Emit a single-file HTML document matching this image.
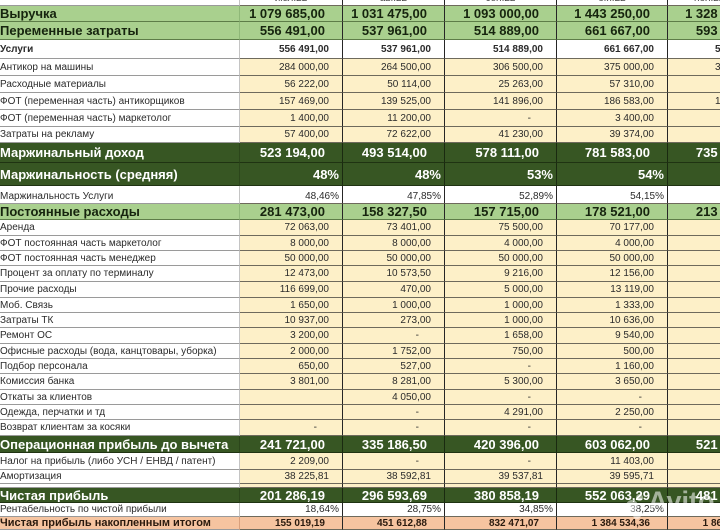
<!DOCTYPE html>
<html><head><meta charset="utf-8">
<style>
html,body{margin:0;padding:0}
body{width:720px;height:530px;overflow:hidden;background:#fff;position:relative;font-family:"Liberation Sans",Arial,sans-serif}
.r{position:absolute;left:0;display:flex;width:720px;overflow:hidden;font-size:10px;color:#2b2b2b}
.r>div{flex-shrink:0;box-sizing:border-box;height:100%;display:flex;align-items:center;justify-content:flex-end;white-space:nowrap;overflow:hidden;border-bottom:1px solid #6e6a5c;border-right:1px solid #262626;padding-right:13px}
.r>div:nth-child(1){width:240px;justify-content:flex-start;border-right:1px solid #c4c4c4;border-bottom:1px solid #9a9a9a;padding:0 0 0 0}
.r>div:nth-child(2){width:103px}
.r>div:nth-child(3){width:102px}
.r>div:nth-child(4){width:112px}
.r>div:nth-child(5){width:111px}
.r>div:nth-child(6){width:111px}
.c>div:not(:first-child){background:#fdf0c8}
.g>div{background:#a9d08e;font-weight:bold;font-size:13px;color:#16240e;padding-right:17px;border-bottom-color:#5d7d48}
.g>div:nth-child(1){border-bottom-color:#5d7d48;border-right-color:#8fb878}
.d>div{background:#375623;font-weight:bold;font-size:13px;color:#fff;padding-right:17px;border-bottom-color:#1f3312;border-right-color:#1a2a10}
.d>div:nth-child(1){border-bottom-color:#1f3312;border-right-color:#2c461b}
.o>div{background:#f6c4a0;font-weight:bold;font-size:10px;color:#2a1a0e;padding-right:17px}
.o>div:nth-child(1){font-size:11px;border-right-color:#d9a07c}
.b{font-weight:bold}
.r>div.p{padding-right:3px}
.r>div.m{padding-right:25px}
.h>div{justify-content:center;padding:0;color:#444}
.h>div:nth-child(1){justify-content:flex-start}
.wm{position:absolute;left:648px;top:486px;font:bold 27px "Liberation Sans",sans-serif;color:rgba(255,255,255,0.55)}
.dot{position:absolute;border-radius:50%;background:rgba(255,255,255,0.5)}
</style></head><body>

<div class="r h" style="top:-8px;height:14px"><div></div><div style="justify-content:center;padding:0">июл.22</div><div style="justify-content:center;padding:0">авг.22</div><div style="justify-content:center;padding:0">сен.22</div><div style="justify-content:center;padding:0">окт.22</div><div style="justify-content:flex-start;padding-left:26px">ноя.22</div></div>

<div class="r g" style="top:6px;height:16px"><div>Выручка</div><div>1 079 685,00</div><div>1 031 475,00</div><div>1 093 000,00</div><div>1 443 250,00</div><div>1 328 750,00</div></div>
<div class="r g" style="top:22px;height:18px"><div>Переменные затраты</div><div>556 491,00</div><div>537 961,00</div><div>514 889,00</div><div>661 667,00</div><div>593 212,00</div></div>
<div class="r" style="top:40px;height:19px"><div class="b">Услуги</div><div class="b">556 491,00</div><div class="b">537 961,00</div><div class="b">514 889,00</div><div class="b">661 667,00</div><div class="b">593 212,00</div></div>
<div class="r c" style="top:59px;height:17px"><div>Антикор на машины</div><div>284 000,00</div><div>264 500,00</div><div>306 500,00</div><div>375 000,00</div><div>330 500,00</div></div>
<div class="r c" style="top:76px;height:17px"><div>Расходные материалы</div><div>56 222,00</div><div>50 114,00</div><div>25 263,00</div><div>57 310,00</div><div>48 730,00</div></div>
<div class="r c" style="top:93px;height:17px"><div>ФОТ (переменная часть) антикорщиков</div><div>157 469,00</div><div>139 525,00</div><div>141 896,00</div><div>186 583,00</div><div>175 620,00</div></div>
<div class="r c" style="top:110px;height:17px"><div>ФОТ (переменная часть) маркетолог</div><div>1 400,00</div><div>11 200,00</div><div class="m">-</div><div>3 400,00</div><div>2 800,00</div></div>
<div class="r c" style="top:127px;height:16px"><div>Затраты на рекламу</div><div>57 400,00</div><div>72 622,00</div><div>41 230,00</div><div>39 374,00</div><div>39 890,00</div></div>
<div class="r d" style="top:143px;height:20px"><div>Маржинальный доход</div><div>523 194,00</div><div>493 514,00</div><div>578 111,00</div><div>781 583,00</div><div>735 538,00</div></div>
<div class="r d" style="top:163px;height:23px"><div>Маржинальность (средняя)</div><div class="p">48%</div><div class="p">48%</div><div class="p">53%</div><div class="p">54%</div><div class="p">55%</div></div>
<div class="r" style="top:186px;height:18px"><div style="padding-top:4px">Маржинальность Услуги</div><div class="p" style="padding-top:4px">48,46%</div><div class="p" style="padding-top:4px">47,85%</div><div class="p" style="padding-top:4px">52,89%</div><div class="p" style="padding-top:4px">54,15%</div><div class="p" style="padding-top:4px">55,35%</div></div>
<div class="r g" style="top:204px;height:16px"><div>Постоянные расходы</div><div>281 473,00</div><div>158 327,50</div><div>157 715,00</div><div>178 521,00</div><div>213 840,00</div></div>
<div class="r c" style="top:220px;height:16px"><div>Аренда</div><div>72 063,00</div><div>73 401,00</div><div>75 500,00</div><div>70 177,00</div><div>72 300,00</div></div>
<div class="r c" style="top:236px;height:15px"><div>ФОТ постоянная часть маркетолог</div><div>8 000,00</div><div>8 000,00</div><div>4 000,00</div><div>4 000,00</div><div>4 000,00</div></div>
<div class="r c" style="top:251px;height:15px"><div>ФОТ постоянная часть менеджер</div><div>50 000,00</div><div>50 000,00</div><div>50 000,00</div><div>50 000,00</div><div>50 000,00</div></div>
<div class="r c" style="top:266px;height:16px"><div>Процент за оплату по терминалу</div><div>12 473,00</div><div>10 573,50</div><div>9 216,00</div><div>12 156,00</div><div>11 940,00</div></div>
<div class="r c" style="top:282px;height:16px"><div>Прочие расходы</div><div>116 699,00</div><div>470,00</div><div>5 000,00</div><div>13 119,00</div><div>42 500,00</div></div>
<div class="r c" style="top:298px;height:15px"><div>Моб. Связь</div><div>1 650,00</div><div>1 000,00</div><div>1 000,00</div><div>1 333,00</div><div>1 000,00</div></div>
<div class="r c" style="top:313px;height:15px"><div>Затраты ТК</div><div>10 937,00</div><div>273,00</div><div>1 000,00</div><div>10 636,00</div><div>8 200,00</div></div>
<div class="r c" style="top:328px;height:16px"><div>Ремонт ОС</div><div>3 200,00</div><div class="m">-</div><div>1 658,00</div><div>9 540,00</div><div>5 100,00</div></div>
<div class="r c" style="top:344px;height:15px"><div>Офисные расходы (вода, канцтовары, уборка)</div><div>2 000,00</div><div>1 752,00</div><div>750,00</div><div>500,00</div><div>800,00</div></div>
<div class="r c" style="top:359px;height:15px"><div>Подбор персонала</div><div>650,00</div><div>527,00</div><div class="m">-</div><div>1 160,00</div><div>900,00</div></div>
<div class="r c" style="top:374px;height:16px"><div>Комиссия банка</div><div>3 801,00</div><div>8 281,00</div><div>5 300,00</div><div>3 650,00</div><div>4 100,00</div></div>
<div class="r c" style="top:390px;height:15px"><div>Откаты за клиентов</div><div></div><div>4 050,00</div><div class="m">-</div><div class="m">-</div><div class="m">-</div></div>
<div class="r c" style="top:405px;height:15px"><div>Одежда, перчатки и тд</div><div></div><div class="m">-</div><div>4 291,00</div><div>2 250,00</div><div class="m">-</div></div>
<div class="r c" style="top:420px;height:16px"><div>Возврат клиентам за косяки</div><div class="m">-</div><div class="m">-</div><div class="m">-</div><div class="m">-</div><div class="m">-</div></div>
<div class="r d" style="top:436px;height:17px"><div>Операционная прибыль до вычета</div><div>241 721,00</div><div>335 186,50</div><div>420 396,00</div><div>603 062,00</div><div>521 698,00</div></div>
<div class="r c" style="top:453px;height:17px"><div>Налог на прибыль (либо УСН / ЕНВД / патент)</div><div>2 209,00</div><div class="m">-</div><div class="m">-</div><div>11 403,00</div><div>1 500,00</div></div>
<div class="r c" style="top:470px;height:14px"><div>Амортизация</div><div>38 225,81</div><div>38 592,81</div><div>39 537,81</div><div>39 595,71</div><div>39 600,00</div></div>
<div class="r c" style="top:484px;height:4px"><div></div><div></div><div></div><div></div><div></div><div></div></div>
<div class="r d" style="top:488px;height:15px"><div>Чистая прибыль</div><div>201 286,19</div><div>296 593,69</div><div>380 858,19</div><div>552 063,29</div><div>481 598,00</div></div>
<div class="r" style="top:503px;height:14px"><div>Рентабельность по чистой прибыли</div><div class="p">18,64%</div><div class="p">28,75%</div><div class="p">34,85%</div><div class="p">38,25%</div><div class="p">36,25%</div></div>
<div class="r o" style="top:517px;height:13px"><div>Чистая прибыль накопленным итогом</div><div>155 019,19</div><div>451 612,88</div><div>832 471,07</div><div>1 384 534,36</div><div>1 866 132,36</div></div>

<div class="dot" style="left:626px;top:500px;width:12px;height:12px"></div>
<div class="dot" style="left:636px;top:494px;width:7px;height:7px"></div>
<div class="dot" style="left:633px;top:511px;width:8px;height:8px"></div>
<div class="wm">Avito</div>
</body></html>
